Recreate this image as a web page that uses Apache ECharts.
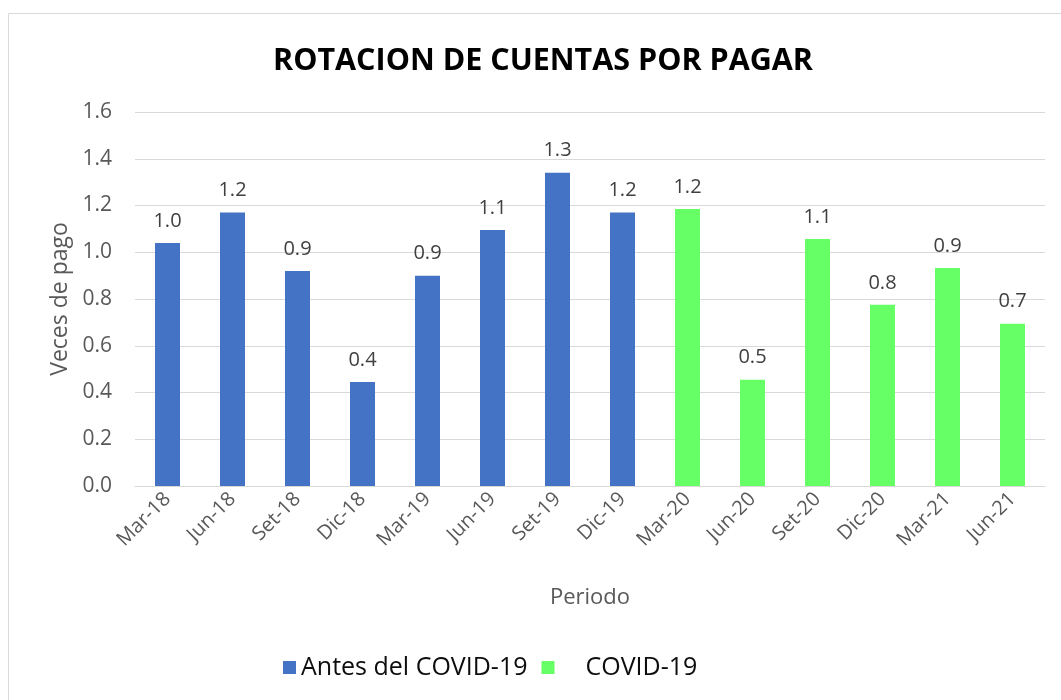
<!DOCTYPE html>
<html>
<head>
<meta charset="utf-8">
<script src="https://cdn.jsdelivr.net/npm/echarts@6/dist/echarts.min.js"></script>
<style>
html,body{margin:0;padding:0;background:#fff;}
#chart{width:1061px;height:700px;}
</style>
</head>
<body>
<div id="chart"></div>
<script>
const categories = ['Mar-18','Jun-18','Set-18','Dic-18','Mar-19','Jun-19','Set-19','Dic-19','Mar-20','Jun-20','Set-20','Dic-20','Mar-21','Jun-21'];
const antesValues = [1.04, 1.17, 0.92, 0.445, 0.90, 1.095, 1.34, 1.17, null, null, null, null, null, null];
const covidValues = [null, null, null, null, null, null, null, null, 1.185, 0.455, 1.057, 0.775, 0.933, 0.694];
const seriesNames = ['Antes del COVID-19', 'COVID-19'];
const yTicks = {min: 0, max: 1.6, interval: 0.2};

const font = '"Open Sans", "Noto Sans", sans-serif';
const chart = echarts.init(document.getElementById('chart'));
const labelCfg = {
  show: true, position: 'top', distance: 12,
  color: '#404040', fontSize: 20, fontFamily: font,
  formatter: p => p.value == null ? '' : Number(p.value).toFixed(1)
};
chart.setOption({
  animation: false,
  backgroundColor: '#fff',
  graphic: [{
    type: 'rect', shape: {x: 8.5, y: 13.5, width: 1100, height: 800},
    style: {fill: 'none', stroke: '#d9d9d9', lineWidth: 1}, silent: true, z: -1
  }],
  title: {
    text: 'ROTACION DE CUENTAS POR PAGAR',
    left: 268, top: 41,
    textStyle: {fontFamily: font, fontWeight: 'bold', fontSize: 30.5, color: '#000'}
  },
  legend: {
    bottom: 15, left: 278, itemGap: 14,
    itemWidth: 13, itemHeight: 13, icon: 'rect',
    textStyle: {fontFamily: font, fontSize: 25, color: '#0d0d0d'},
    data: seriesNames,
    formatter: n => n === 'COVID-19' ? '    ' + n : n
  },
  grid: {left: 135, right: 16, top: 112, bottom: 214, containLabel: false},
  xAxis: {
    type: 'category', data: categories,
    name: 'Periodo', nameLocation: 'middle', nameGap: 101,
    nameTextStyle: {fontFamily: font, fontSize: 22, color: '#595959'},
    axisLine: {lineStyle: {color: '#d9d9d9', width: 1}},
    axisTick: {show: false},
    axisLabel: {rotate: 45, fontFamily: font, fontSize: 20, color: '#595959', margin: 10, interval: 0}
  },
  yAxis: {
    type: 'value', min: yTicks.min, max: yTicks.max, interval: yTicks.interval,
    name: 'Veces de pago', nameLocation: 'middle', nameGap: 63, nameRotate: 90,
    nameTextStyle: {fontFamily: font, fontSize: 23, color: '#595959'},
    axisLine: {show: false}, axisTick: {show: false},
    splitLine: {lineStyle: {color: '#d9d9d9', width: 1}},
    axisLabel: {fontFamily: font, fontSize: 21, color: '#595959', margin: 23,
      formatter: v => v.toFixed(1)}
  },
  series: [
    {name: seriesNames[0], type: 'bar', data: antesValues, barWidth: 25, barGap: '-100%',
     itemStyle: {color: '#4472C4'}, label: labelCfg},
    {name: seriesNames[1], type: 'bar', data: covidValues, barWidth: 25, barGap: '-100%',
     itemStyle: {color: '#66FF66'}, label: labelCfg}
  ]
});
</script>
</body>
</html>
